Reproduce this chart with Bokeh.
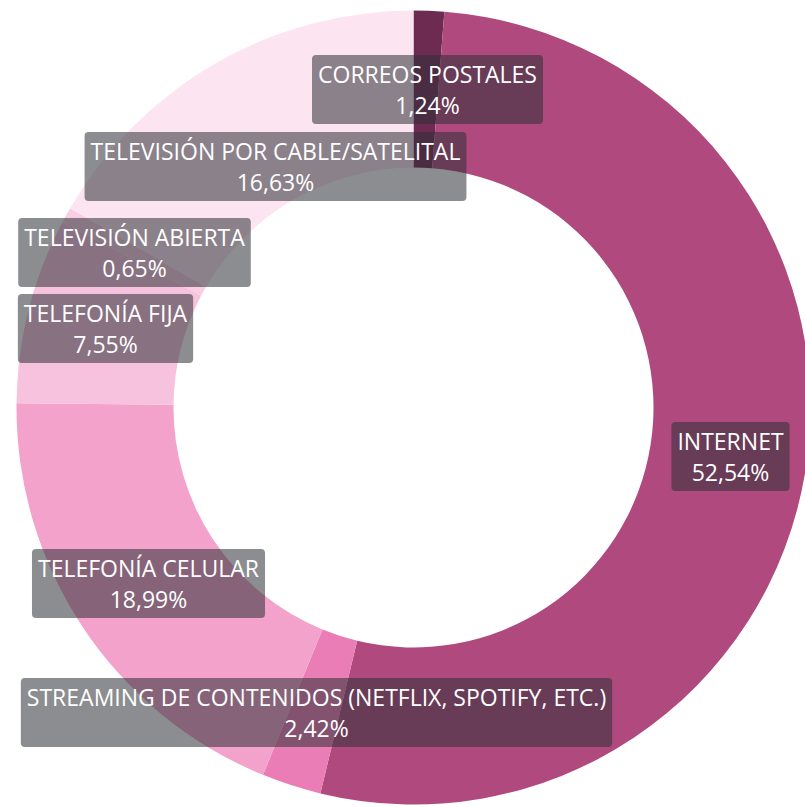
import math
from bokeh.plotting import figure
from bokeh.models import Range1d, ColumnDataSource
from bokeh.core.properties import value
from bokeh.embed import file_html
from bokeh.resources import INLINE

categories = ["CORREOS POSTALES", "INTERNET", "STREAMING DE CONTENIDOS (NETFLIX, SPOTIFY, ETC.)",
              "TELEFONÍA CELULAR", "TELEFONÍA FIJA", "TELEVISIÓN ABIERTA",
              "TELEVISIÓN POR CABLE/SATELITAL"]
shares = [1.24, 52.54, 2.42, 18.99, 7.55, 0.65, 16.63]
colors = ["#6d2b52", "#b0497e", "#ea7db6", "#f2a2cb", "#f7c2dd", "#f9cde3", "#fde4f1"]

# label anchor positions (screen pixels of page)
label_x = [427, 730, 316, 148, 105, 134, 275]
label_y = [89, 456, 712, 583, 328, 252, 166]

W, H = 805, 807
CX, CY = 413, 407          # donut centre in page pixels
R_OUT, R_IN = 397, 240

def sy(v):
    return H - v

total = sum(shares)
starts, ends = [], []
acc = 0.0
for s in shares:
    starts.append(math.pi / 2 - 2 * math.pi * acc / total)
    acc += s
    ends.append(math.pi / 2 - 2 * math.pi * acc / total)

src = ColumnDataSource(dict(
    x=[CX] * len(shares), y=[sy(CY)] * len(shares),
    start=starts, end=ends, color=colors))

p = figure(width=W, height=H, output_backend="svg", toolbar_location=None,
           x_range=Range1d(0, W), y_range=Range1d(0, H),
           min_border=0, outline_line_color=None)
p.axis.visible = False
p.grid.visible = False
p.background_fill_color = "white"

p.annular_wedge(x="x", y="y", inner_radius=R_IN, outer_radius=R_OUT,
                start_angle="start", end_angle="end", direction="clock",
                color="color", line_color=None, source=src)

texts = [c + "\n" + f"{s:.2f}".replace(".", ",") + "%" for c, s in zip(categories, shares)]
lsrc = ColumnDataSource(dict(x=label_x, y=[sy(v) for v in label_y], t=texts))
p.text(x="x", y="y", text="t", source=lsrc, text_align="center",
       text_baseline="middle", text_color="white", text_font=value("Open Sans"),
       text_font_size="23px", text_line_height=0.97,
       background_fill_color="#2d3034", background_fill_alpha=0.55,
       border_radius=4, padding=(6, 3))

open("out.html", "w").write(file_html(p, INLINE))
